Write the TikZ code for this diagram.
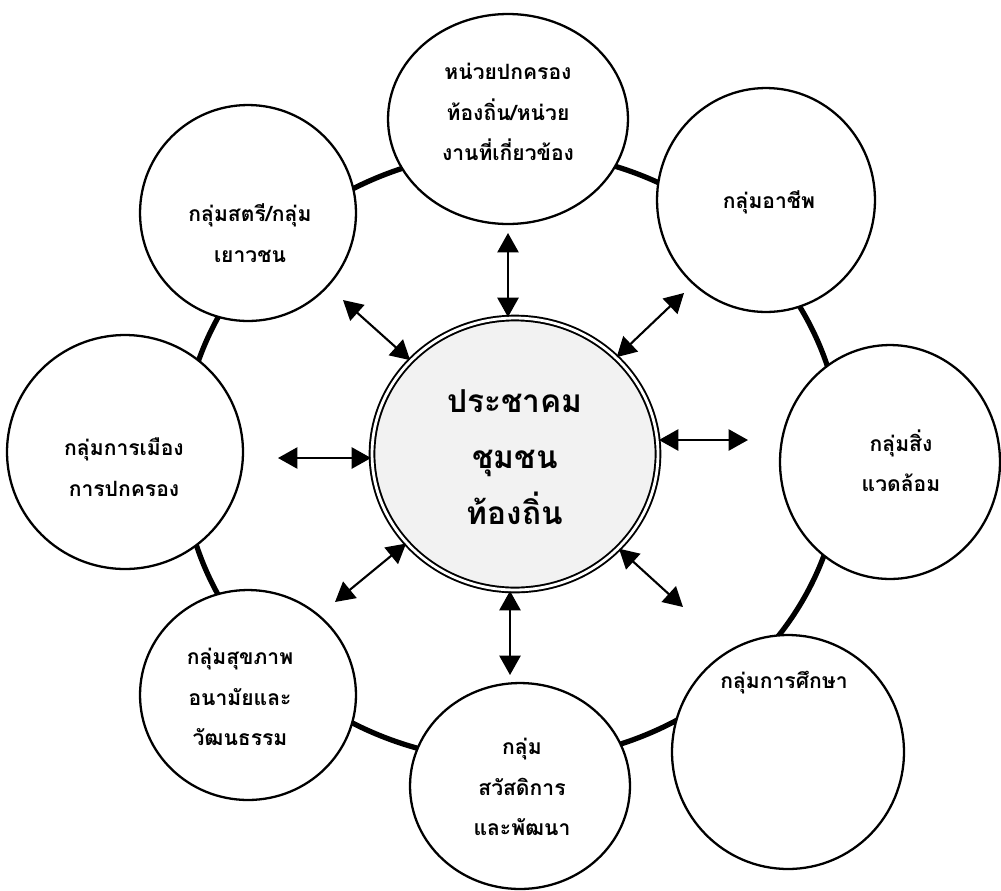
\documentclass[tikz,border=0pt]{standalone}
\usepackage{fontspec}
\newfontfamily\thai[Script=Thai]{Loma}
\usetikzlibrary{arrows.meta,shapes.geometric}
\begin{document}
\begin{tikzpicture}[x=0.02cm,y=-0.02cm,
  sat/.style={draw, ellipse, line width=1.3pt, fill=white, inner sep=0pt},
  lbl/.style={align=center, inner sep=0pt, font=\thai\bfseries\fontsize{12}{23}\selectfont},
  clbl/.style={align=center, inner sep=0pt, font=\thai\bfseries\fontsize{18}{32}\selectfont},
  arr/.style={{Triangle[length=11pt,width=12pt]}-{Triangle[length=11pt,width=12pt]}, line width=1.2pt},
  ring/.style={line width=3pt}]
\useasboundingbox (0,0) rectangle (1001,890);
\coordinate (o) at (512,456);
% outer ring
\draw[ring] (o) ellipse [x radius=6.6cm, y radius=6.1cm];
% satellites
\node[sat, minimum width=4.8cm, minimum height=4.2cm] (t) at (508,119) {};
\node[sat, minimum width=4.32cm, minimum height=4.32cm] (ul) at (248,213) {};
\node[sat, minimum width=4.36cm, minimum height=4.48cm] (ur) at (766,200) {};
\node[sat, minimum width=4.72cm, minimum height=4.68cm] (l) at (125,452) {};
\node[sat, minimum width=4.4cm, minimum height=4.68cm] (r) at (890,462) {};
\node[sat, minimum width=4.32cm, minimum height=4.2cm] (ll) at (248,695) {};
\node[sat, minimum width=4.4cm, minimum height=4.12cm] (b) at (520,786) {};
\node[sat, minimum width=4.64cm, minimum height=4.68cm] (lr) at (788,752) {};
% centre
\node[ellipse, draw, double, double distance=1.6pt, line width=1.1pt, fill=black!5,
      minimum width=5.72cm, minimum height=5.44cm] (c) at (515,454) {};
% texts
\node[lbl] (tt) at (508,112) {หน่วยปกครอง\\ท้องถิ่น/หน่วย\\งานที่เกี่ยวข้อง};
\node[lbl] (tul) at (250,233) {กลุ่มสตรี/กลุ่ม\\เยาวชน};
\node[lbl] (tur) at (769,202) {กลุ่มอาชีพ};
\node[lbl] (tl) at (124,467) {กลุ่มการเมือง\\การปกครอง};
\node[lbl] (tr) at (901,461) {กลุ่มสิ่ง\\แวดล้อม};
\node[lbl] (tll) at (240,697) {กลุ่มสุขภาพ\\อนามัยและ\\วัฒนธรรม};
\node[lbl] (tb) at (522,787) {กลุ่ม\\สวัสดิการ\\และพัฒนา};
\node[lbl] (tlr) at (784,683) {กลุ่มการศึกษา};
\node[clbl] (tc) at (515,457) {ประชาคม\\ชุมชน\\ท้องถิ่น};
% arrow ends
\coordinate (at) at (508,233);
\coordinate (aul) at (343,300);
\coordinate (aur) at (684,293);
\coordinate (ar) at (748,440);
\coordinate (al) at (278,458);
\coordinate (all) at (335,602);
\coordinate (alr) at (683,607);
\coordinate (ab) at (510,675);
\draw[arr] (at |- c.north) -- (at);
\draw[arr] (c) -- (aul);
\draw[arr] (c) -- (aur);
\draw[arr] (ar -| c.east) -- (ar);
\draw[arr] (al -| c.west) -- (al);
\draw[arr] (c) -- (all);
\draw[arr] (c) -- (alr);
\draw[arr] (ab |- c.south) -- (ab);
\end{tikzpicture}
\end{document}
